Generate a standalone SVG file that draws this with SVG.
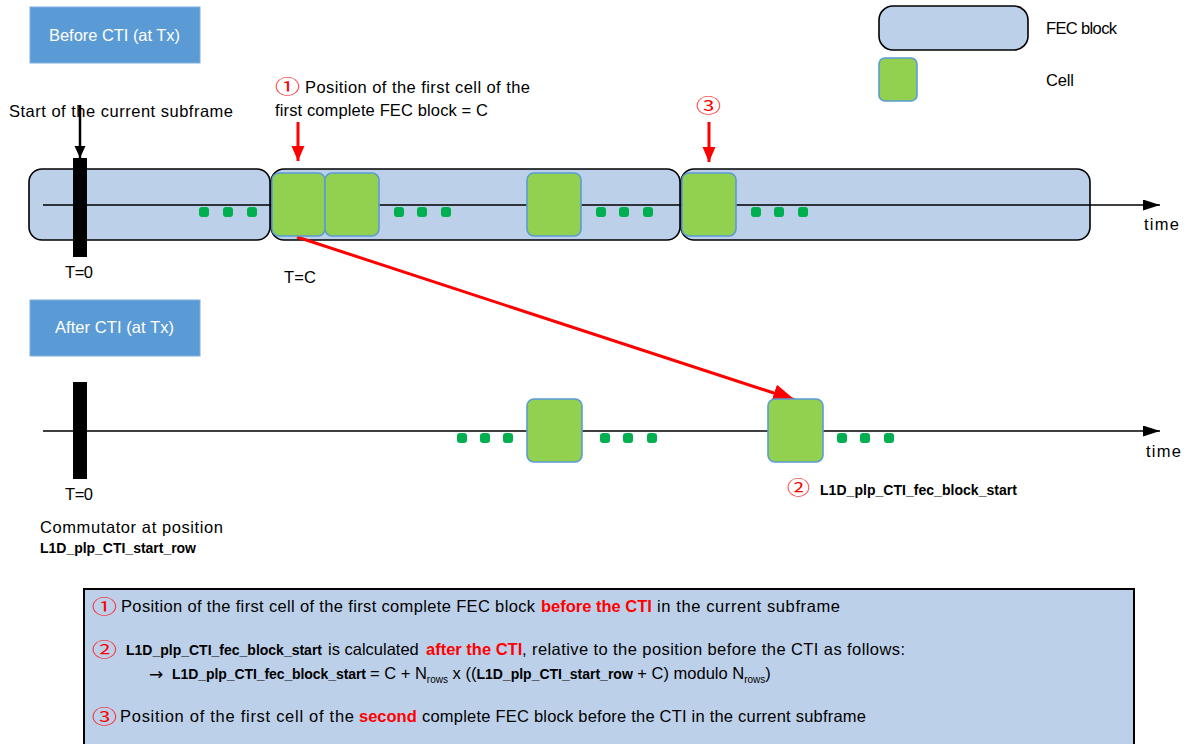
<svg xmlns="http://www.w3.org/2000/svg" width="1186" height="744" viewBox="0 0 1186 744">
<style>
.t{font-family:"Liberation Sans",Arial,sans-serif;font-size:16.5px;fill:#000}
.w{fill:#fff}
.b{font-family:"Liberation Sans",Arial,sans-serif;font-size:14px;font-weight:bold;fill:#000}
.bi{font-family:"Liberation Sans",Arial,sans-serif;font-size:14px;font-weight:bold}
.rb{font-family:"Liberation Sans",Arial,sans-serif;font-size:16.5px;font-weight:bold;fill:#ff0000}
.sb{font-size:10px}
.cn{font-family:"Noto Sans CJK SC","DejaVu Sans",sans-serif;font-size:19px;fill:#ff0000}
.hdr{fill:#5b9bd5;stroke:#7fb0de;stroke-width:1}
.fec{fill:#bdd0e9;stroke:#000;stroke-width:1.6}
.cell{fill:#92d050;stroke:#5b9bd5;stroke-width:1.6}
.dot{fill:#00b050}
.bar{fill:#000}
.axis{stroke:#000;stroke-width:1.5;fill:none}
.red{stroke:#ff0000;stroke-width:3;fill:none}
</style>
<defs>
<marker id="ax" markerUnits="userSpaceOnUse" markerWidth="18" markerHeight="12" refX="17" refY="5.5" orient="auto"><path d="M0,0 L17,5.5 L0,11 z" fill="#000"/></marker>
<marker id="rv" markerUnits="userSpaceOnUse" markerWidth="15" markerHeight="14" refX="15" refY="6.5" orient="auto"><path d="M0,0 L15,6.5 L0,13 z" fill="#ff0000"/></marker>
<marker id="rd" markerUnits="userSpaceOnUse" markerWidth="24" markerHeight="20" refX="22" refY="9" orient="auto"><path d="M0,0 L22,9 L0,18 z" fill="#ff0000"/></marker>
<marker id="bk" markerUnits="userSpaceOnUse" markerWidth="13" markerHeight="12" refX="12" refY="5.5" orient="auto"><path d="M0,0 L12,5.5 L0,11 z" fill="#000"/></marker>
</defs>

<g id="header-before"><rect class="hdr" x="30" y="7" width="170" height="56"/><text class="t w" x="49" y="41" textLength="131">Before CTI (at Tx)</text></g>
<g id="header-after"><rect class="hdr" x="30" y="300" width="170" height="56"/><text class="t w" x="55" y="333" textLength="119">After CTI (at Tx)</text></g>

<g id="legend">
<rect class="fec" x="879" y="6" width="149" height="44" rx="14"/>
<text class="t" x="1046" y="34" textLength="71">FEC block</text>
<rect class="cell" x="879" y="58" width="38" height="43" rx="6"/>
<text class="t" x="1046" y="86" textLength="28">Cell</text>
</g>

<g id="fec-block-1"><rect class="fec" x="29" y="169" width="241" height="71" rx="13"/></g>
<g id="fec-block-2"><rect class="fec" x="271" y="169" width="409" height="71" rx="13"/></g>
<g id="fec-block-3"><rect class="fec" x="681" y="169" width="409" height="71" rx="13"/></g>

<g id="connectors">
<line class="axis" x1="43" y1="205" x2="1160" y2="205" marker-end="url(#ax)"/>
<line class="axis" x1="43" y1="431" x2="1160" y2="431" marker-end="url(#ax)"/>
<line stroke="#000" stroke-width="2.5" x1="80" y1="105" x2="80" y2="158" marker-end="url(#bk)"/>
<line class="red" x1="298" y1="122" x2="298" y2="161" marker-end="url(#rv)"/>
<line class="red" x1="709" y1="122" x2="709" y2="162" marker-end="url(#rv)"/>
<line class="red" x1="297" y1="237" x2="795" y2="400" marker-end="url(#rd)"/>
</g>

<g id="cells-top">
<rect class="cell" x="272" y="173" width="53" height="63" rx="7"/>
<rect class="cell" x="325" y="173" width="54" height="63" rx="7"/>
<rect class="cell" x="527" y="173" width="54" height="63" rx="7"/>
<rect class="cell" x="682" y="173" width="54" height="63" rx="7"/>
</g>
<g id="dots-top">
<rect class="dot" x="199" y="207" width="10" height="10" rx="3"/>
<rect class="dot" x="223" y="207" width="10" height="10" rx="3"/>
<rect class="dot" x="247" y="207" width="10" height="10" rx="3"/>
<rect class="dot" x="394" y="207" width="10" height="10" rx="3"/>
<rect class="dot" x="417" y="207" width="10" height="10" rx="3"/>
<rect class="dot" x="441" y="207" width="10" height="10" rx="3"/>
<rect class="dot" x="596" y="207" width="10" height="10" rx="3"/>
<rect class="dot" x="619" y="207" width="10" height="10" rx="3"/>
<rect class="dot" x="643" y="207" width="10" height="10" rx="3"/>
<rect class="dot" x="751" y="207" width="10" height="10" rx="3"/>
<rect class="dot" x="774" y="207" width="10" height="10" rx="3"/>
<rect class="dot" x="798" y="207" width="10" height="10" rx="3"/>
</g>

<g id="cells-bottom">
<rect class="cell" x="527" y="399" width="55" height="63" rx="7"/>
<rect class="cell" x="768" y="399" width="55" height="63" rx="7"/>
</g>
<g id="dots-bottom">
<rect class="dot" x="457" y="433" width="10" height="10" rx="3"/>
<rect class="dot" x="480" y="433" width="10" height="10" rx="3"/>
<rect class="dot" x="503" y="433" width="10" height="10" rx="3"/>
<rect class="dot" x="600" y="433" width="10" height="10" rx="3"/>
<rect class="dot" x="623" y="433" width="10" height="10" rx="3"/>
<rect class="dot" x="647" y="433" width="10" height="10" rx="3"/>
<rect class="dot" x="837" y="433" width="10" height="10" rx="3"/>
<rect class="dot" x="860" y="433" width="10" height="10" rx="3"/>
<rect class="dot" x="884" y="433" width="10" height="10" rx="3"/>
</g>

<g id="bar-top"><rect class="bar" x="73" y="158" width="14" height="99"/></g>
<g id="bar-bottom"><rect class="bar" x="73" y="382" width="14" height="97"/></g>

<g id="labels-top">
<text class="t" x="9" y="117" textLength="224">Start of the current subframe</text>
<text class="cn" x="275" y="94" textLength="25" lengthAdjust="spacingAndGlyphs">①</text>
<text class="t" x="305" y="93" textLength="225">Position of the first cell of the</text>
<text class="t" x="275" y="116" textLength="213">first complete FEC block = C</text>
<text class="cn" x="696" y="113" textLength="25" lengthAdjust="spacingAndGlyphs">③</text>
<text class="t" x="65" y="278" textLength="28">T=0</text>
<text class="t" x="284" y="283" textLength="32">T=C</text>
<text class="t" x="1144" y="230" textLength="35">time</text>
</g>

<g id="labels-bottom">
<text class="t" x="65" y="500" textLength="28">T=0</text>
<text class="t" x="40" y="533" textLength="183">Commutator at position</text>
<text class="b" x="40" y="553" textLength="156">L1D_plp_CTI_start_row</text>
<text class="t" x="1146" y="457" textLength="35">time</text>
<text class="cn" x="787" y="495" textLength="23" lengthAdjust="spacingAndGlyphs">②</text>
<text class="b" x="820" y="495" textLength="197">L1D_plp_CTI_fec_block_start</text>
</g>

<g id="explanation">
<rect x="84" y="589" width="1050" height="170" fill="#bdd0e9" stroke="#000" stroke-width="2"/>
<text class="cn" x="92" y="614" textLength="25" lengthAdjust="spacingAndGlyphs">①</text>
<text class="t" x="121" y="612" textLength="414">Position of the first cell of the first complete FEC block</text>
<text class="rb" x="541" y="612">before the CTI</text>
<text class="t" x="657" y="612" textLength="183">in the current subframe</text>

<text class="cn" x="92" y="657" textLength="25" lengthAdjust="spacingAndGlyphs">②</text>
<text class="b" x="126" y="655" textLength="196">L1D_plp_CTI_fec_block_start</text>
<text class="t" x="328" y="655">is calculated</text>
<text class="rb" x="426" y="655">after the CTI</text>
<text class="t" x="522" y="655" textLength="383">, relative to the position before the CTI as follows:</text>

<text font-family="DejaVu Sans,sans-serif" font-size="17" x="149" y="680">→</text>
<text class="b" x="172" y="679" textLength="194">L1D_plp_CTI_fec_block_start</text>
<text class="t" x="370" y="679">= C + N<tspan class="sb" dy="4">rows</tspan><tspan dy="-4"> x ((</tspan><tspan class="bi">L1D_plp_CTI_start_row</tspan> + C) modulo N<tspan class="sb" dy="4">rows</tspan><tspan dy="-4">)</tspan></text>

<text class="cn" x="92" y="724" textLength="25" lengthAdjust="spacingAndGlyphs">③</text>
<text class="t" x="120" y="722" textLength="234">Position of the first cell of the</text>
<text class="rb" x="359" y="722">second</text>
<text class="t" x="422" y="722" textLength="444">complete FEC block before the CTI in the current subframe</text>
</g>
</svg>
